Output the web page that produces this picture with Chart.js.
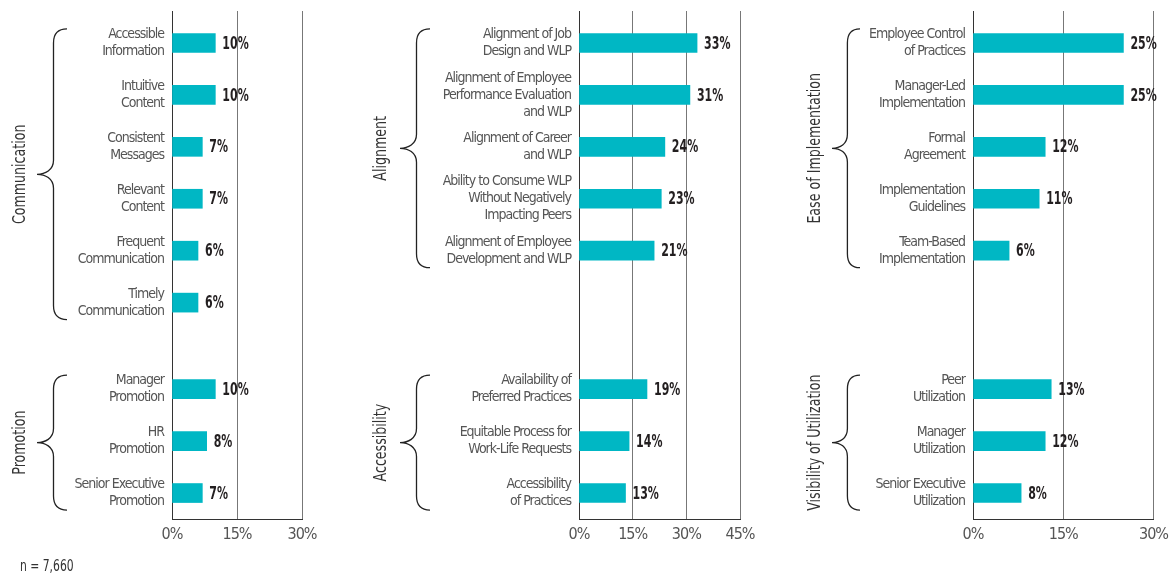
<!DOCTYPE html>
<html>
<head>
<meta charset="utf-8">
<script src="https://cdn.jsdelivr.net/npm/chart.js@4.4.1/dist/chart.umd.min.js"></script>
<style>
  html, body { margin: 0; padding: 0; background: #fff; }
  body { width: 1174px; height: 576px; position: relative; overflow: hidden; }
  .panel { position: absolute; top: 0; height: 576px; }
  #note {
    position: absolute; left: 20px; top: 557px; line-height: 16px;
    font: 15px 'DejaVu Sans Condensed', sans-serif; color: #333;
    transform: scaleX(0.8); transform-origin: left center; white-space: nowrap;
  }
</style>
</head>
<body>
<div class="panel" style="left:0;width:340px"><canvas id="chartComm"></canvas></div>
<div class="panel" style="left:350px;width:420px"><canvas id="chartAlign"></canvas></div>
<div class="panel" style="left:780px;width:394px"><canvas id="chartEase"></canvas></div>
<div id="note">n = 7,660</div>

<script>
const FONT = "'DejaVu Sans Condensed', sans-serif";
const BAR_COLOR = '#00b7c4';

// --- Communication / Promotion ---
const commLabels = [['Accessible', 'Information'], ['Intuitive', 'Content'], ['Consistent', 'Messages'],
  ['Relevant', 'Content'], ['Frequent', 'Communication'], ['Timely', 'Communication']];
const commValues = [10, 10, 7, 7, 6, 6];
const promoLabels = [['Manager', 'Promotion'], ['HR', 'Promotion'], ['Senior Executive', 'Promotion']];
const promoValues = [10, 8, 7];
const commTicks = [0, 15, 30];

// --- Alignment / Accessibility ---
const alignLabels = [['Alignment of Job', 'Design and WLP'],
  ['Alignment of Employee', 'Performance Evaluation', 'and WLP'],
  ['Alignment of Career', 'and WLP'],
  ['Ability to Consume WLP', 'Without Negatively', 'Impacting Peers'],
  ['Alignment of Employee', 'Development and WLP']];
const alignValues = [33, 31, 24, 23, 21];
const accessLabels = [['Availability of', 'Preferred Practices'], ['Equitable Process for', 'Work-Life Requests'],
  ['Accessibility', 'of Practices']];
const accessValues = [19, 14, 13];
const alignTicks = [0, 15, 30, 45];

// --- Ease of Implementation / Visibility of Utilization ---
const easeLabels = [['Employee Control', 'of Practices'], ['Manager-Led', 'Implementation'], ['Formal', 'Agreement'],
  ['Implementation', 'Guidelines'], ['Team-Based', 'Implementation']];
const easeValues = [25, 25, 12, 11, 6];
const visLabels = [['Peer', 'Utilization'], ['Manager', 'Utilization'], ['Senior Executive', 'Utilization']];
const visValues = [13, 12, 8];
const easeTicks = [0, 15, 30];

// each row takes three thin slots, the lower group starts after a wider gap
const SLOTS = 29;
const TOP_START = 1;
const BOTTOM_START = 21;
const STEP = 3;

function buildRows(topLabels, topValues, botLabels, botValues) {
  const labels = Array(SLOTS).fill('');
  const values = Array(SLOTS).fill(null);
  topLabels.forEach((l, i) => { labels[TOP_START + STEP * i] = l; values[TOP_START + STEP * i] = topValues[i]; });
  botLabels.forEach((l, i) => { labels[BOTTOM_START + STEP * i] = l; values[BOTTOM_START + STEP * i] = botValues[i]; });
  return { labels, values };
}

function drawBrace(ctx, tipX, endX, top, bottom) {
  const mid = (top + bottom) / 2;
  const bodyX = tipX + (endX - tipX) * 0.55;
  const r = 14;
  ctx.beginPath();
  ctx.moveTo(endX, top);
  ctx.bezierCurveTo(bodyX + 2, top, bodyX, top + r * 0.5, bodyX, top + r);
  ctx.lineTo(bodyX, mid - r);
  ctx.bezierCurveTo(bodyX, mid - 4, tipX + 8, mid, tipX, mid);
  ctx.bezierCurveTo(tipX + 8, mid, bodyX, mid + 4, bodyX, mid + r);
  ctx.lineTo(bodyX, bottom - r);
  ctx.bezierCurveTo(bodyX, bottom - r * 0.5, bodyX + 2, bottom, endX, bottom);
  ctx.stroke();
}

// tighter letter spacing for the library-drawn tick text
const tightText = {
  id: 'tightText',
  beforeUpdate(chart) { chart.ctx.letterSpacing = '-1px'; },
  beforeDraw(chart) { chart.ctx.letterSpacing = '-1px'; }
};

// curly braces and rotated group names left of the category labels
const bracePlugin = {
  id: 'braces',
  afterDraw(chart, args, opts) {
    const ctx = chart.ctx;
    const y = chart.scales.y;
    ctx.save();
    ctx.letterSpacing = '0px';
    ctx.strokeStyle = '#222';
    ctx.lineWidth = 1.3;
    ctx.fillStyle = '#333';
    ctx.font = '18px ' + FONT;
    ctx.textAlign = 'center';
    ctx.textBaseline = 'middle';
    opts.groups.forEach(g => {
      const top = y.getPixelForValue(g.first) - 14;
      const bottom = y.getPixelForValue(g.last) + 17;
      drawBrace(ctx, opts.tipX, opts.endX, top, bottom);
      ctx.save();
      ctx.translate(opts.titleX, (top + bottom) / 2);
      ctx.rotate(-Math.PI / 2);
      ctx.scale(0.78, 1);
      ctx.fillText(g.title, 0, 0);
      ctx.restore();
    });
    ctx.restore();
  }
};

// percentage next to each bar
const valuePlugin = {
  id: 'barValues',
  afterDatasetsDraw(chart) {
    const ctx = chart.ctx;
    const data = chart.data.datasets[0].data;
    ctx.save();
    ctx.letterSpacing = '0px';
    ctx.fillStyle = '#231f20';
    ctx.font = 'bold 18px ' + FONT;
    ctx.textAlign = 'left';
    ctx.textBaseline = 'middle';
    chart.getDatasetMeta(0).data.forEach((bar, i) => {
      if (data[i] == null) return;
      ctx.save();
      ctx.translate(bar.x + 7, bar.y + 1);
      ctx.scale(0.68, 1);
      ctx.fillText(data[i] + '%', 0, 0);
      ctx.restore();
    });
    ctx.restore();
  }
};

const gridColor = c => (c.tick && c.tick.value === 0 ? '#333' : '#777');

function makeChart(id, rows, ticks, yWidth, padRight, braces) {
  const maxTick = ticks[ticks.length - 1];
  const setTicks = s => { s.ticks = ticks.map(v => ({ value: v })); };
  return new Chart(document.getElementById(id), {
    type: 'bar',
    data: {
      labels: rows.labels,
      datasets: [{
        data: rows.values,
        backgroundColor: BAR_COLOR,
        borderWidth: 0,
        barThickness: 19
      }]
    },
    options: {
      indexAxis: 'y',
      responsive: true,
      maintainAspectRatio: false,
      animation: false,
      layout: { padding: { top: 11, right: padRight, bottom: 0, left: 0 } },
      plugins: {
        legend: { display: false },
        tooltip: { enabled: false },
        braces: braces
      },
      scales: {
        x: {
          min: 0,
          max: maxTick,
          afterFit: s => { s.height = 57; },
          afterBuildTicks: setTicks,
          grid: { drawTicks: false, color: gridColor, lineWidth: 1 },
          border: { color: '#333', width: 1 },
          ticks: {
            padding: 6,
            color: '#555',
            font: { family: FONT, size: 16 },
            callback: v => v + '%'
          }
        },
        // top axis only carries the short line stubs above the plot
        xTop: {
          type: 'linear',
          position: 'top',
          min: 0,
          max: maxTick,
          afterFit: s => { s.height = 6; },
          afterBuildTicks: setTicks,
          grid: { drawOnChartArea: false, drawTicks: true, tickLength: 6, color: gridColor },
          border: { display: false },
          ticks: { display: false }
        },
        y: {
          afterFit: s => { s.width = yWidth; },
          grid: { display: false, drawTicks: false },
          border: { display: true, color: '#333', width: 1 },
          ticks: {
            autoSkip: false,
            padding: 8,
            color: '#555',
            font: { family: FONT, size: 14, lineHeight: '17px' }
          }
        }
      }
    },
    plugins: [tightText, bracePlugin, valuePlugin]
  });
}

const groupIdx = (n, start) => ({ first: start, last: start + STEP * (n - 1) });

makeChart('chartComm', buildRows(commLabels, commValues, promoLabels, promoValues), commTicks, 172, 38, {
  tipX: 37, endX: 67, titleX: 20,
  groups: [
    Object.assign({ title: 'Communication' }, groupIdx(commLabels.length, TOP_START)),
    Object.assign({ title: 'Promotion' }, groupIdx(promoLabels.length, BOTTOM_START))
  ]
});

makeChart('chartAlign', buildRows(alignLabels, alignValues, accessLabels, accessValues), alignTicks, 229, 30, {
  tipX: 50, endX: 80, titleX: 31,
  groups: [
    Object.assign({ title: 'Alignment' }, groupIdx(alignLabels.length, TOP_START)),
    Object.assign({ title: 'Accessibility' }, groupIdx(accessLabels.length, BOTTOM_START))
  ]
});

makeChart('chartEase', buildRows(easeLabels, easeValues, visLabels, visValues), easeTicks, 193, 16, {
  tipX: 52, endX: 80, titleX: 35,
  groups: [
    Object.assign({ title: 'Ease of Implementation' }, groupIdx(easeLabels.length, TOP_START)),
    Object.assign({ title: 'Visibility of Utilization' }, groupIdx(visLabels.length, BOTTOM_START))
  ]
});
</script>
</body>
</html>
